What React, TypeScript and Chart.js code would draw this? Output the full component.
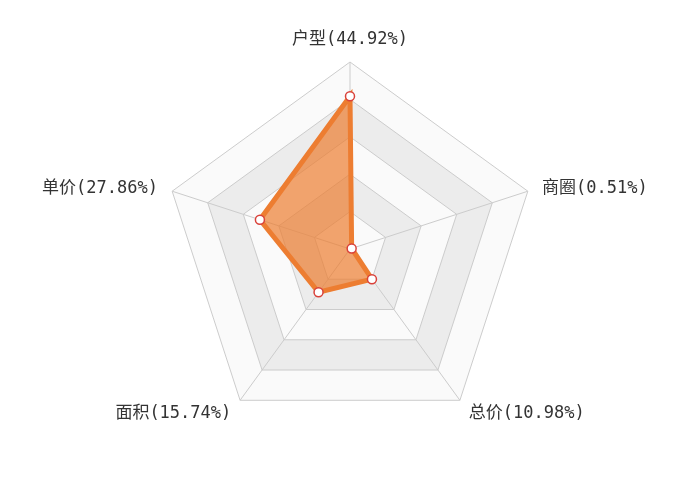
import React, { useEffect, useRef } from 'react';
import { Chart, ChartConfiguration, registerables, Plugin } from 'chart.js';

Chart.register(...registerables);

const labels = ['户型(44.92%)', '商圈(0.51%)', '总价(10.98%)', '面积(15.74%)', '单价(27.86%)'];
const values = [44.92, 0.51, 10.98, 15.74, 27.86];
const axisMax = 55;
const ringStep = 11;

const bandColors = ['#fafafa', '#ececec'];
const nameGap = 15;

function ringPath(ctx: CanvasRenderingContext2D, scale: any, value: number) {
  ctx.beginPath();
  for (let i = 0; i < labels.length; i++) {
    const p = scale.getPointPositionForValue(i, value);
    if (i === 0) ctx.moveTo(p.x, p.y);
    else ctx.lineTo(p.x, p.y);
  }
  ctx.closePath();
}

// alternating split areas, grid lines and the axis names
const splitAreaPlugin: Plugin<'radar'> = {
  id: 'splitArea',
  beforeDatasetsDraw(chart) {
    const scale: any = chart.scales.r;
    const ctx = chart.ctx;
    const rings: number[] = [];
    for (let v = 0; v <= axisMax; v += ringStep) rings.push(v);
    ctx.save();
    for (let k = rings.length - 1; k >= 1; k--) {
      ringPath(ctx, scale, rings[k]);
      ctx.fillStyle = k % 2 === 1 ? bandColors[0] : bandColors[1];
      ctx.fill();
    }
    ctx.strokeStyle = '#cccccc';
    ctx.lineWidth = 1;
    for (let k = 1; k < rings.length; k++) {
      ringPath(ctx, scale, rings[k]);
      ctx.stroke();
    }
    for (let i = 0; i < labels.length; i++) {
      const c = scale.getPointPositionForValue(i, 0);
      const p = scale.getPointPositionForValue(i, axisMax);
      ctx.beginPath();
      ctx.moveTo(c.x, c.y);
      ctx.lineTo(p.x, p.y);
      ctx.stroke();
    }

    ctx.font = "17px 'DejaVu Sans Mono', 'Noto Sans CJK SC', monospace";
    ctx.fillStyle = '#333333';
    for (let i = 0; i < labels.length; i++) {
      const angle = scale.getIndexAngle(i) - Math.PI / 2;
      const r = scale.drawingArea + nameGap;
      const x = scale.xCenter + Math.cos(angle) * r;
      const y = scale.yCenter + Math.sin(angle) * r;
      const cos = Math.cos(angle);
      if (Math.abs(cos) < 0.01) {
        ctx.textAlign = 'center';
        ctx.textBaseline = 'bottom';
        ctx.fillText(labels[i], x, y + 1);
      } else {
        ctx.textAlign = cos > 0 ? 'left' : 'right';
        ctx.textBaseline = 'middle';
        ctx.fillText(labels[i], x, y + 1.5);
      }
    }
    ctx.restore();
  },
};

const App: React.FC = () => {
  const chartRef = useRef<HTMLCanvasElement>(null);
  const chartInstanceRef = useRef<Chart | null>(null);

  useEffect(() => {
    if (chartRef.current) {
      const ctx = chartRef.current.getContext('2d');
      if (ctx) {
        if (chartInstanceRef.current) {
          chartInstanceRef.current.destroy();
        }

        const chartConfig: ChartConfiguration<'radar'> = {
          type: 'radar',
          data: {
            labels: labels,
            datasets: [{
              data: values,
              borderColor: '#ed7d31',
              backgroundColor: 'rgba(237, 125, 49, 0.7)',
              borderWidth: 5,
              fill: true,
              pointRadius: 4.5,
              pointBorderWidth: 1.5,
              pointBackgroundColor: '#ffffff',
              pointBorderColor: '#d9413a',
            }]
          },
          options: {
            animation: false,
            responsive: true,
            maintainAspectRatio: false,
            plugins: {
              legend: { display: false },
              tooltip: { enabled: false }
            },
            scales: {
              r: {
                min: 0,
                max: axisMax,
                ticks: { display: false, stepSize: ringStep },
                grid: { display: false },
                angleLines: { display: false },
                pointLabels: { display: false }
              }
            },
            layout: {
              padding: { left: 0, right: 0, top: 62, bottom: 64 }
            }
          },
          plugins: [splitAreaPlugin]
        };

        chartInstanceRef.current = new Chart(ctx, chartConfig as ChartConfiguration);
      }
    }

    return () => {
      if (chartInstanceRef.current) {
        chartInstanceRef.current.destroy();
      }
    };
  }, []);

  return (
    <div style={{ position: 'fixed', left: 0, top: 0, width: '700px', height: '500px', background: '#ffffff' }}>
      <canvas ref={chartRef}></canvas>
    </div>
  );
};

export default App;
